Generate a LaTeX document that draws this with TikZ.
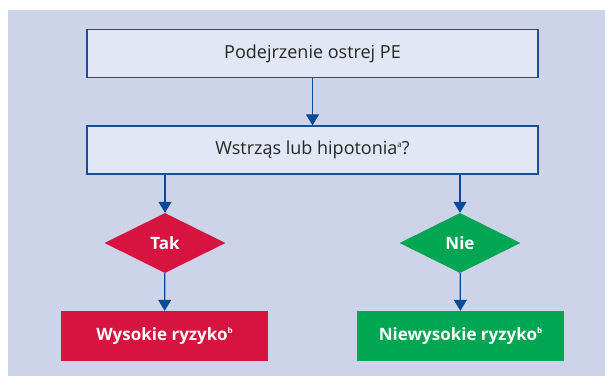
\documentclass[tikz,border=0pt]{standalone}
\usepackage{fontspec}
\usepackage{xcolor}
\usetikzlibrary{shapes.geometric,arrows.meta}
\setmainfont{Open Sans}
\definecolor{tlo}{HTML}{CDD3E8}
\definecolor{pole}{HTML}{E1E7F5}
\definecolor{ramka}{HTML}{1B4F93}
\definecolor{strzalka}{HTML}{0B4A98}
\definecolor{czerwony}{HTML}{D7133F}
\definecolor{zielony}{HTML}{00A651}
\newcommand{\przyp}[1]{\raisebox{0.75ex}{\fontsize{8}{8}\selectfont #1}}
\tikzset{
  pytanie/.style={draw=ramka,line width=1.3pt,fill=pole,minimum width=451pt,minimum height=48pt,
    font=\fontsize{18}{21}\selectfont,text=black!85},
  romb/.style={diamond,inner sep=0pt,minimum width=121pt,minimum height=60pt,
    font=\fontsize{17}{20}\selectfont\bfseries,text=white},
  wynik/.style={minimum width=207pt,minimum height=50pt,
    font=\fontsize{17}{20}\selectfont\bfseries,text=white},
  strz/.style={draw=strzalka,line width=1.2pt,-{Triangle[width=13pt,length=11pt]}}
}
\begin{document}
\begin{tikzpicture}[x=1pt,y=-1pt]
        \useasboundingbox (0,0) rectangle (605,377);
        % Tlo
        \fill[tlo] (7.5,10) rectangle (605,376);
        % Pytania
        \node[pytanie] (pe) at (312.5,53.5) {Podejrzenie ostrej PE};
        \node[pytanie] (wstrzas) at (312.5,150) {Wstrząs lub hipotonia\przyp{a}?};
        % Romby
        \node[romb,fill=czerwony] (tak) at (165,243) {Tak};
        \node[romb,fill=zielony] (nie) at (460,243) {Nie};
        % Wyniki
        \node[wynik,fill=czerwony] (wysokie) at (164.5,336) {Wysokie ryzyko\przyp{b}};
        \node[wynik,fill=zielony] (niewysokie) at (460.5,336) {Niewysokie ryzyko\przyp{b}};
        % Strzalki
        \draw[strz] (pe) -- (wstrzas);
        \draw[strz] (wstrzas.south -| tak.north) -- (tak);
        \draw[strz] (wstrzas.south -| nie.north) -- (nie);
        \draw[strz] (tak) -- (wysokie);
        \draw[strz] (nie) -- (niewysokie);
\end{tikzpicture}
\end{document}
